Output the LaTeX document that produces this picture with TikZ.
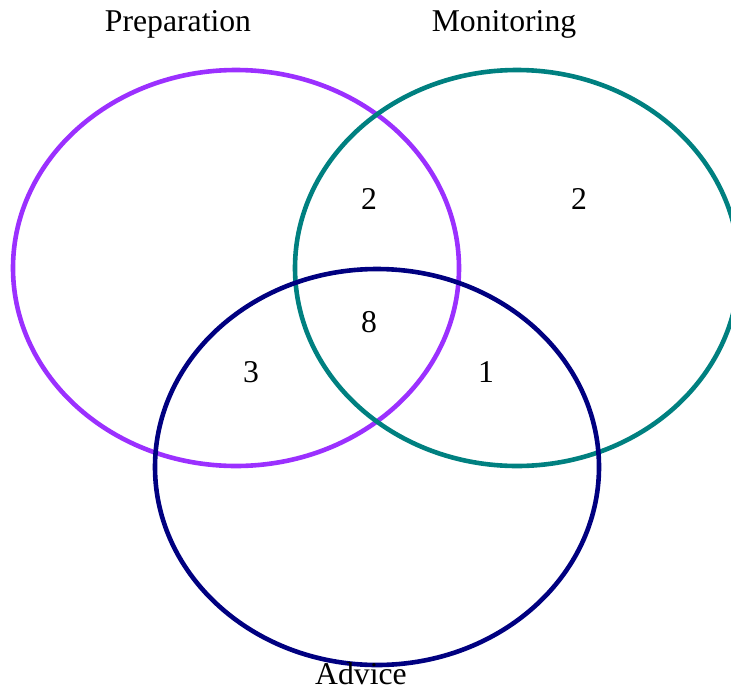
\documentclass[tikz,border=0pt]{standalone}
\usepackage{fontspec}
\setmainfont{Liberation Serif}
\usepackage{tikz}
\usetikzlibrary{positioning}
\definecolor{mypurple}{RGB}{155,48,255}
\definecolor{myteal}{RGB}{0,128,128}
\definecolor{mynavy}{RGB}{0,0,128}
\tikzset{
  setring/.style={draw, line width=4.6pt},
  setlabel/.style={font=\fontsize{31.7}{36}\selectfont, text=black, inner sep=0pt},
  countlabel/.style={font=\fontsize{31.7}{36}\selectfont, text=black, inner sep=0pt}
}
\begin{document}
\begin{tikzpicture}[x=1pt, y=-1pt]
  \useasboundingbox (0,0) rectangle (731,691);
  \begin{scope}
    \clip (0,0) rectangle (731,691);
    % the three sets
    \draw[setring, mypurple] (236,268) ellipse [x radius=223, y radius=198];
    \draw[setring, myteal] (517,268) ellipse [x radius=222, y radius=198];
    \draw[setring, mynavy] (377,467) ellipse [x radius=222, y radius=198];
  \end{scope}
  % set names
  \node[setlabel] (prep) at (178,24) {Preparation};
  \node[setlabel] (mon) at (504,24) {Monitoring};
  \node[setlabel] (adv) at (361,674) {Advice};
  % region counts
  \node[countlabel] (pm) at (369,199) {2};
  \node[countlabel] (m) at (579,199) {2};
  \node[countlabel] (pma) at (369,322) {8};
  \node[countlabel] (pa) at (251,372) {3};
  \node[countlabel] (ma) at (486,372) {1};
\end{tikzpicture}
\end{document}
